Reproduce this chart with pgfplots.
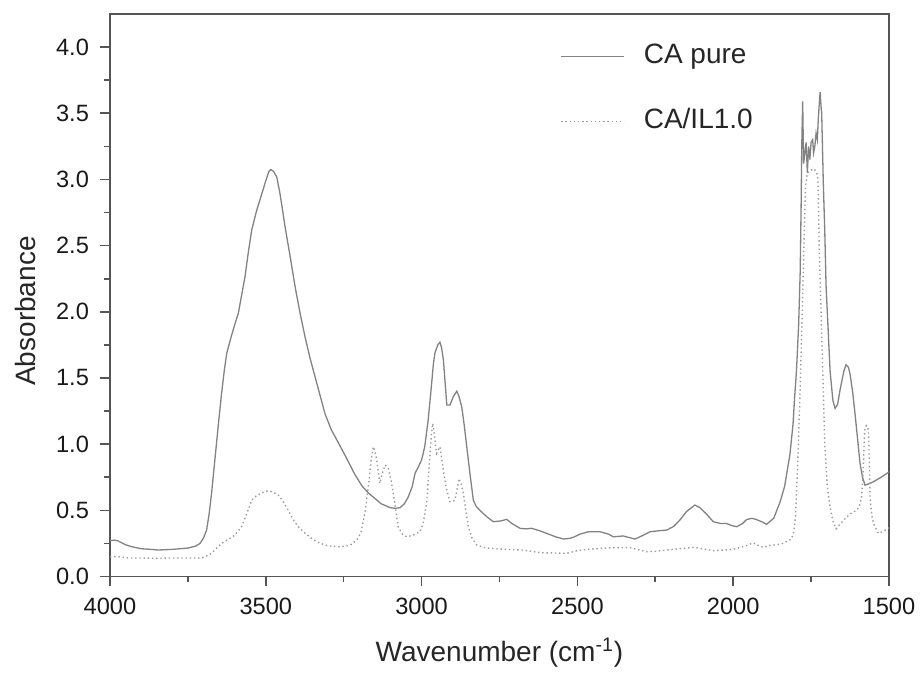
\documentclass[border=0pt]{standalone}
\usepackage{fontspec}
\setmainfont{Liberation Sans}
\usepackage{pgfplots}
\pgfplotsset{compat=1.18}
\definecolor{axisgray}{RGB}{85,85,85}
\definecolor{solidgray}{RGB}{130,130,130}
\definecolor{dotgray}{RGB}{155,155,155}
\begin{document}
\begin{tikzpicture}
\begin{axis}[
  at={(0pt,0pt)}, anchor=south west,
  scale only axis, width=389.5pt, height=281.25pt,
  xmin=1500, xmax=4000, x dir=reverse, ymin=0, ymax=4.25,
  xtick={1500,2000,2500,3000,3500,4000},
  ytick={0,0.5,1,1.5,2,2.5,3,3.5,4},
  minor tick num=1,
  tick align=outside, xtick pos=lower, ytick pos=left,
  major tick length=5pt, minor tick length=3pt,
  axis line style={axisgray, line width=0.9pt},
  every tick/.style={axisgray, line width=0.8pt},
  every tick label/.append style={font=\fontsize{11.8}{13}\selectfont, text=black!90},
  /pgf/number format/assume math mode=true,
  xticklabel style={/pgf/number format/1000 sep={}, yshift=-2pt},
  yticklabel style={/pgf/number format/fixed, /pgf/number format/fixed zerofill, /pgf/number format/precision=1, xshift=-2pt},
  xlabel={Wavenumber (cm\textsuperscript{-1})},
  ylabel={Absorbance},
  label style={font=\fontsize{14}{16}\selectfont, text=black!85},
  xlabel style={at={(axis description cs:0.5,-0.152)}, anchor=base},
  ylabel style={at={(axis description cs:-0.1091,0.472)}, anchor=center, rotate=0},
  legend style={at={(0.5777,0.9484)}, anchor=north west, draw=none, fill=none, inner sep=0pt,
    row sep=19.5pt, column sep=9.5pt,
    nodes={inner sep=0pt, text height=10pt, text depth=3pt},
    font=\fontsize{14}{16}\selectfont, text=black!85},
  legend cell align=left,
  legend image code/.code={\draw[#1] (0pt,0pt) -- (31.5pt,0pt);},
]
\addplot[solidgray, line width=0.65pt] coordinates {
(4000,0.27) (3985,0.275) (3975,0.27) (3950,0.24) (3930,0.225) (3900,0.21) (3870,0.205) (3845,0.20)
(3800,0.205) (3749,0.215) (3725,0.23) (3711,0.25) (3700,0.29) (3690,0.35) (3682,0.47) (3674,0.63)
(3666,0.82) (3658,1.01) (3650,1.20) (3642,1.38) (3633,1.56) (3625,1.69) (3610,1.82) (3600,1.90)
(3588,1.99) (3578,2.12) (3567,2.26) (3556,2.45) (3545,2.62) (3530,2.76) (3513,2.89) (3500,2.99)
(3490,3.06) (3484,3.075) (3475,3.06) (3465,3.02) (3455,2.90) (3445,2.75) (3438,2.64) (3422,2.42)
(3406,2.19) (3390,1.99) (3374,1.81) (3358,1.65) (3342,1.51) (3326,1.37) (3310,1.23) (3290,1.11)
(3267,1.01) (3240,0.89) (3214,0.77) (3190,0.68) (3170,0.63) (3155,0.60) (3130,0.55) (3101,0.52)
(3085,0.515) (3069,0.52) (3055,0.55) (3043,0.60) (3030,0.68) (3021,0.78) (3010,0.83) (3000,0.88)
(2990,0.98) (2979,1.18) (2970,1.40) (2962,1.61) (2957,1.69) (2948,1.75) (2941,1.77) (2936,1.73)
(2930,1.635) (2924,1.45) (2919,1.295) (2909,1.295) (2898,1.36) (2887,1.40) (2880,1.36) (2871,1.28)
(2863,1.14) (2855,0.98) (2845,0.78) (2834,0.578) (2825,0.53) (2813,0.50) (2790,0.45) (2770,0.414)
(2745,0.42) (2727,0.432) (2710,0.40) (2684,0.364) (2665,0.36) (2647,0.364) (2620,0.345) (2599,0.326)
(2570,0.30) (2545,0.283) (2525,0.288) (2513,0.296) (2492,0.32) (2465,0.338) (2427,0.338) (2400,0.32)
(2385,0.30) (2353,0.306) (2335,0.295) (2315,0.283) (2290,0.31) (2267,0.338) (2240,0.345) (2213,0.351)
(2190,0.38) (2171,0.427) (2150,0.49) (2123,0.54) (2107,0.52) (2085,0.47) (2064,0.414) (2040,0.40)
(2021,0.40) (2005,0.385) (1989,0.376) (1970,0.40) (1957,0.43) (1940,0.44) (1925,0.43) (1905,0.41)
(1893,0.394) (1870,0.44) (1850,0.56) (1835,0.68) (1818,0.92) (1808,1.15) (1803,1.35) (1797,1.55)
(1790,1.90) (1785,2.3) (1782,2.8) (1780,3.25) (1777,3.59) (1774,3.12) (1770,3.20) (1766,3.28)
(1762,3.05) (1758,3.25) (1754,3.15) (1750,3.28) (1745,3.30) (1742,3.20) (1738,3.25) (1734,3.35)
(1730,3.30) (1727,3.45) (1723,3.60) (1721,3.66) (1718,3.55) (1716,3.50) (1713,3.20) (1711,2.99)
(1706,2.60) (1702,2.20) (1695,1.85) (1689,1.55) (1680,1.33) (1673,1.27) (1665,1.30) (1657,1.41)
(1645,1.55) (1638,1.60) (1630,1.58) (1625,1.53) (1617,1.40) (1609,1.23) (1600,1.02) (1593,0.855)
(1585,0.75) (1577,0.69) (1565,0.70) (1550,0.716) (1525,0.75) (1500,0.79)
};
\addlegendentry{CA pure}
\addplot[dotgray, line width=0.7pt, dash pattern=on 0.7pt off 1.4pt] coordinates {
(4000,0.15) (3978,0.15) (3940,0.14) (3900,0.14) (3856,0.137) (3800,0.14) (3740,0.14) (3706,0.14)
(3690,0.155) (3674,0.175) (3660,0.21) (3642,0.25) (3620,0.28) (3599,0.313) (3578,0.376) (3560,0.48)
(3545,0.578) (3530,0.61) (3513,0.63) (3500,0.645) (3487,0.645) (3475,0.635) (3460,0.615) (3445,0.57)
(3428,0.50) (3412,0.43) (3396,0.376) (3375,0.33) (3353,0.288) (3330,0.255) (3299,0.23) (3262,0.225)
(3230,0.235) (3208,0.276) (3195,0.33) (3182,0.477) (3171,0.678) (3162,0.88) (3155,0.98) (3150,0.95)
(3144,0.88) (3134,0.704) (3126,0.78) (3117,0.842) (3107,0.817) (3098,0.73) (3091,0.628) (3083,0.50)
(3075,0.376) (3062,0.32) (3048,0.30) (3030,0.31) (3005,0.338) (2995,0.40) (2984,0.553) (2978,0.75)
(2973,0.93) (2968,1.08) (2964,1.157) (2958,1.05) (2952,0.93) (2946,0.96) (2941,0.98) (2936,0.90)
(2930,0.80) (2920,0.66) (2909,0.565) (2900,0.565) (2893,0.578) (2886,0.66) (2880,0.74) (2873,0.70)
(2866,0.628) (2858,0.50) (2850,0.376) (2838,0.29) (2823,0.238) (2800,0.22) (2780,0.213) (2730,0.205)
(2674,0.20) (2620,0.18) (2580,0.178) (2535,0.175) (2500,0.195) (2470,0.205) (2440,0.21) (2385,0.218)
(2331,0.218) (2300,0.20) (2278,0.187) (2240,0.192) (2213,0.20) (2170,0.21) (2128,0.22) (2100,0.21)
(2064,0.195) (2030,0.20) (2000,0.205) (1970,0.225) (1950,0.24) (1936,0.255) (1920,0.235) (1904,0.22)
(1882,0.235) (1860,0.24) (1840,0.25) (1825,0.27) (1815,0.28) (1807,0.32) (1800,0.45) (1793,0.85)
(1786,1.35) (1779,1.95) (1773,2.5) (1768,2.95) (1762,3.05) (1750,3.07) (1740,3.08) (1732,3.05)
(1728,3.0) (1724,2.5) (1718,2.0) (1712,1.5) (1706,1.0) (1698,0.68) (1689,0.52) (1680,0.42)
(1670,0.36) (1655,0.40) (1636,0.45) (1620,0.48) (1604,0.50) (1595,0.53) (1588,0.60) (1583,0.80)
(1579,1.05) (1577,1.13) (1572,1.14) (1566,1.107) (1563,0.85) (1561,0.60) (1555,0.46) (1550,0.40)
(1534,0.326) (1520,0.34) (1502,0.364) (1500,0.37)
};
\addlegendentry{CA/IL1.0}
\end{axis}
\pgfresetboundingbox
\path[use as bounding box] (-55pt,-48.25pt) rectangle (405.5pt,288.25pt);
\end{tikzpicture}
\end{document}
